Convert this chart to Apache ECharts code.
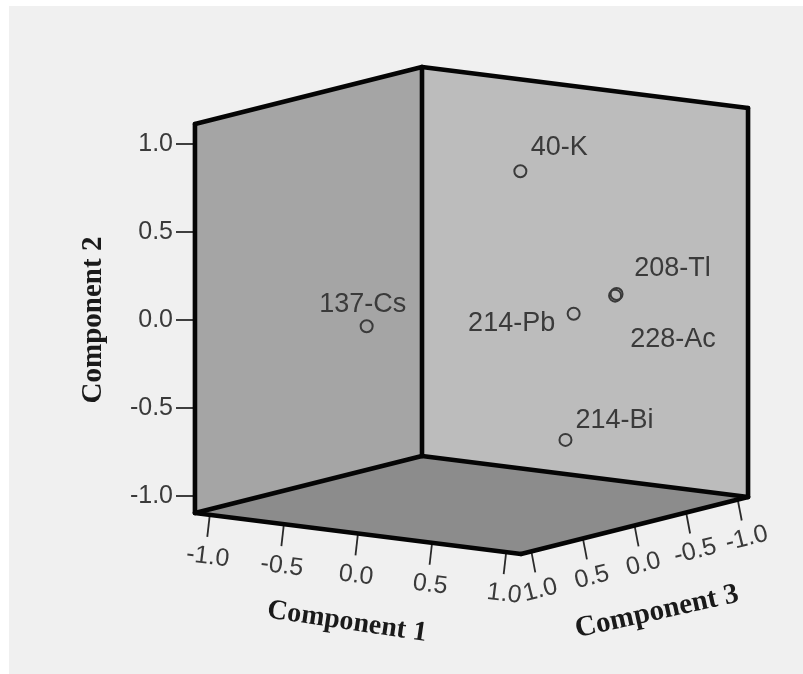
<!DOCTYPE html>
<html><head><meta charset="utf-8">
<style>html,body{margin:0;padding:0;background:#fff}#c{width:803px;height:674px}</style>
<script src="https://cdn.jsdelivr.net/npm/echarts@6/dist/echarts.min.js"></script>
</head><body><div id="c"></div>
<script>
const names = ['40-K','137-Cs','214-Pb','208-Tl','228-Ac','214-Bi'];
const component1 = [0.26,-0.22,0.55,0.77,0.76,0.46];
const component2 = [0.80,-0.01,0.01,0.13,0.12,-0.72];
const component3 = [-0.10,0.70,-0.20,-0.30,-0.30,-0.25];
const labelOffsets = [[39,-24],[-4,-22],[-62,10],[56,-26],[58,44],[49,-19]];
const tickValues = [-1,-0.5,0,0.5,1];
const tickLabels = ['-1.0','-0.5','0.0','0.5','1.0'];
const E = 1.1; // box half-extent in data units

function project(c1,c2,c3){
  return [471.5 + 148.2*c1 - 103.2*c3,
          310.5 + 18.6*c1 + 25.9*c3 - 176.8*c2];
}
const walls = [
  {c:[[-E,-E,E],[-E,E,E],[-E,E,-E],[-E,-E,-E]], fill:'#a5a5a5'},
  {c:[[-E,-E,-E],[-E,E,-E],[E,E,-E],[E,-E,-E]], fill:'#bcbcbc'},
  {c:[[-E,-E,E],[-E,-E,-E],[E,-E,-E],[E,-E,E]], fill:'#8c8c8c'}
];
const edges = [
  [[-E,-E,E],[-E,E,E]],[[-E,E,E],[-E,E,-E]],[[-E,E,-E],[E,E,-E]],[[E,E,-E],[E,-E,-E]],
  [[-E,E,-E],[-E,-E,-E]],[[-E,-E,-E],[-E,-E,E]],[[-E,-E,-E],[E,-E,-E]],
  [[-E,-E,E],[E,-E,E]],[[E,-E,E],[E,-E,-E]]
];
function boxItem(params,api){
  const to=p=>api.coord(project(p[0],p[1],p[2]));
  const kids=[];
  walls.forEach(w=>kids.push({type:'polygon',shape:{points:w.c.map(to)},style:{fill:w.fill}}));
  tickValues.forEach(v=>{
    let a=to([v,-E,E]);
    kids.push({type:'line',shape:{x1:a[0],y1:a[1],x2:a[0]-2.5,y2:a[1]+22},style:{stroke:'#2a2a2a',lineWidth:1.8}});
    a=to([E,-E,v]);
    kids.push({type:'line',shape:{x1:a[0],y1:a[1],x2:a[0]+4,y2:a[1]+21},style:{stroke:'#2a2a2a',lineWidth:1.8}});
  });
  edges.forEach(e=>{const a=to(e[0]),b=to(e[1]);
    kids.push({type:'line',shape:{x1:a[0],y1:a[1],x2:b[0],y2:b[1]},style:{stroke:'#050505',lineWidth:4.6,lineCap:'round'}});});
  tickValues.forEach((v,i)=>{
    let a=to([v,-E,E]);
    kids.push({type:'text',x:a[0]-2,y:a[1]+42,rotation:-7*Math.PI/180,
      style:{text:tickLabels[i],fill:'#3a3a3a',font:'25px "Liberation Sans"',align:'center',verticalAlign:'middle'}});
    a=to([E,-E,v]);
    kids.push({type:'text',x:a[0]+9,y:a[1]+39,rotation:14*Math.PI/180,
      style:{text:tickLabels[i],fill:'#3a3a3a',font:'25px "Liberation Sans"',align:'center',verticalAlign:'middle'}});
  });
  kids.push({type:'text',x:347,y:622,rotation:-8.5*Math.PI/180,
    style:{text:'Component 1',fill:'#1a1a1a',font:'bold 28px "Liberation Serif"',align:'center',verticalAlign:'middle'}});
  kids.push({type:'text',x:657,y:612,rotation:12.5*Math.PI/180,
    style:{text:'Component 3',fill:'#1a1a1a',font:'bold 29px "Liberation Serif"',align:'center',verticalAlign:'middle'}});
  return {type:'group',children:kids};
}
const pts = names.map((n,i)=>{const p=project(component1[i],component2[i],component3[i]);
  return {name:n,value:p,label:{offset:labelOffsets[i]}};});

const chart = echarts.init(document.getElementById('c'),null,{renderer:'canvas'});
chart.setOption({
  animation:false,
  backgroundColor:'#ffffff',
  graphic:[{type:'rect',z:-1,shape:{x:9,y:6,width:794,height:668},style:{fill:'#f0f0f0'},silent:true}],
  grid:[{left:0,top:0,width:803,height:674},{left:195,top:144,width:553,height:352}],
  xAxis:[{type:'value',gridIndex:0,min:0,max:803,show:false},{type:'value',gridIndex:1,show:false}],
  yAxis:[{type:'value',gridIndex:0,min:0,max:674,inverse:true,show:false},
    {type:'value',gridIndex:1,min:-1,max:1,interval:0.5,z:0,
     name:'Component 2',nameLocation:'middle',nameGap:87,nameRotate:90,
     nameTextStyle:{fontFamily:'Liberation Serif',fontWeight:'bold',fontSize:29,color:'#1a1a1a'},
     axisLine:{show:false},splitLine:{show:false},
     axisTick:{show:true,length:19,lineStyle:{color:'#2a2a2a',width:1.8}},
     axisLabel:{margin:22,padding:[5,0,0,0],color:'#3a3a3a',fontFamily:'Liberation Sans',fontSize:25,formatter:v=>v.toFixed(1)}}],
  series:[
    {type:'custom',xAxisIndex:0,yAxisIndex:0,renderItem:boxItem,data:[[0,0]],silent:true,clip:false,z:1},
    {type:'scatter',xAxisIndex:0,yAxisIndex:0,data:pts,symbol:'circle',symbolSize:12,z:3,silent:true,clip:false,
     itemStyle:{color:'rgba(0,0,0,0)',borderColor:'#3a3a3a',borderWidth:2,opacity:1},
     label:{show:true,position:'inside',formatter:'{b}',color:'#3a3a3a',fontFamily:'Liberation Sans',fontSize:27}}
  ]
});
</script></body></html>
